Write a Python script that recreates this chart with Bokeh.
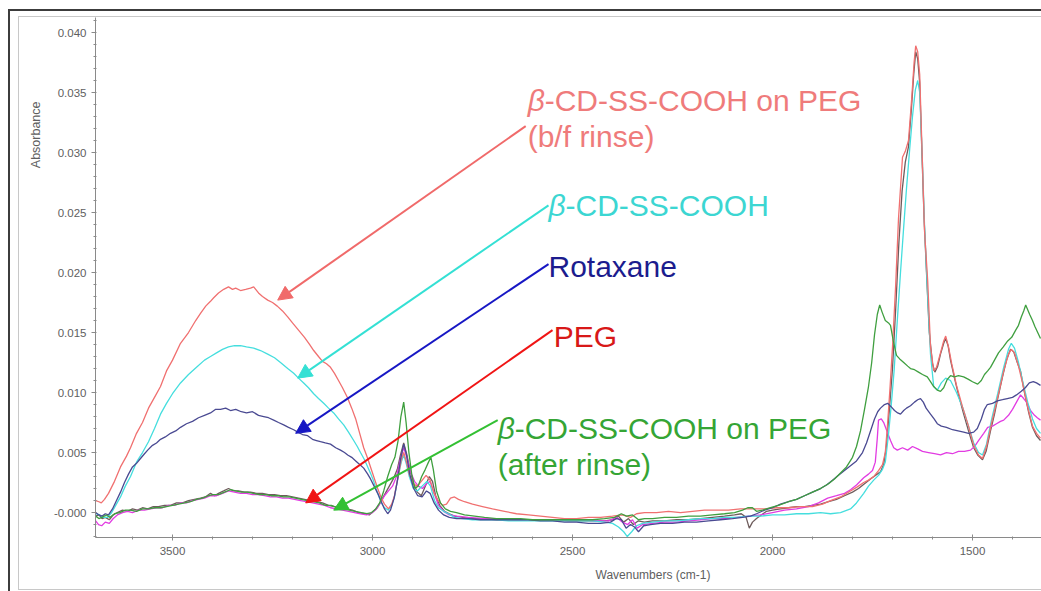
from bokeh.plotting import figure
from bokeh.models import Range1d, FixedTicker, Arrow, NormalHead, Label, Title
from bokeh.embed import file_html
from bokeh.resources import INLINE

# ---------------------------------------------------------------------------
# FTIR spectra: (wavenumber cm-1, absorbance)
# ---------------------------------------------------------------------------
BF_RINSE = [
    (3692, 0.0010), (3684, 0.0009), (3678, 0.0008), (3670, 0.0011), (3660, 0.0016), (3645, 0.0026),
    (3630, 0.0038), (3615, 0.0047), (3605, 0.0054), (3590, 0.0066), (3575, 0.0075), (3560, 0.0087),
    (3545, 0.0096), (3530, 0.0105), (3515, 0.0118), (3500, 0.0127), (3480, 0.0141), (3460, 0.0150),
    (3442, 0.0160), (3430, 0.0166), (3417, 0.0172), (3405, 0.0176), (3397, 0.0179), (3385, 0.0183),
    (3372, 0.0186), (3360, 0.0188), (3350, 0.0186), (3342, 0.0187), (3330, 0.0185), (3317, 0.0186),
    (3305, 0.0187), (3297, 0.0188), (3285, 0.0183), (3275, 0.0180), (3262, 0.0177), (3250, 0.0175),
    (3238, 0.0172), (3225, 0.0168), (3212, 0.0163), (3200, 0.0158), (3185, 0.0152), (3170, 0.0146),
    (3157, 0.0140), (3147, 0.0135), (3135, 0.0130), (3125, 0.0126), (3115, 0.0124), (3105, 0.0121),
    (3095, 0.0116), (3085, 0.0110), (3075, 0.0104), (3063, 0.0096), (3052, 0.0087), (3042, 0.0078),
    (3032, 0.0066), (3022, 0.0054), (3012, 0.0045), (3005, 0.0038), (2995, 0.0028), (2987, 0.0020),
    (2978, 0.0012), (2970, 0.0007), (2960, 0.0003), (2952, 0.0007), (2945, 0.0014), (2936, 0.0030),
    (2928, 0.0044), (2922, 0.0050), (2915, 0.0042), (2908, 0.0032), (2898, 0.0024), (2888, 0.0022),
    (2878, 0.0026), (2866, 0.0031), (2856, 0.0027), (2846, 0.0016), (2836, 0.0010), (2825, 0.0006),
    (2815, 0.0007), (2805, 0.0012), (2795, 0.0013), (2785, 0.0011), (2770, 0.0009), (2750, 0.0007),
    (2725, 0.0005), (2700, 0.0003), (2670, 0.0001), (2640, -0.0001), (2610, -0.0002), (2580, -0.0003),
    (2550, -0.0004), (2520, -0.0005), (2490, -0.0005), (2460, -0.0004), (2430, -0.0004), (2400, -0.0003),
    (2375, -0.0002), (2355, -0.0004), (2340, -0.0001), (2320, 0.0000), (2290, 0.0000), (2260, 0.0001),
    (2230, 0.0000), (2200, 0.0001), (2170, 0.0002), (2140, 0.0002), (2110, 0.0002), (2080, 0.0003),
    (2050, 0.0003), (2020, 0.0003), (1990, 0.0004), (1960, 0.0004), (1930, 0.0005), (1900, 0.0005),
    (1875, 0.0007), (1855, 0.0010), (1830, 0.0013), (1805, 0.0018), (1790, 0.0021), (1772, 0.0025),
    (1760, 0.0027), (1747, 0.0030), (1735, 0.0035), (1725, 0.0040), (1718, 0.0050), (1712, 0.0075),
    (1706, 0.0105), (1700, 0.0138), (1692, 0.0190), (1685, 0.0245), (1675, 0.0296), (1668, 0.0301),
    (1660, 0.0310), (1652, 0.0345), (1646, 0.0375), (1642, 0.0389), (1637, 0.0384), (1632, 0.0365),
    (1626, 0.0300), (1620, 0.0235), (1612, 0.0193), (1605, 0.0138), (1597, 0.0118), (1590, 0.0121),
    (1580, 0.0133), (1572, 0.0143), (1567, 0.0147), (1560, 0.0138), (1552, 0.0124), (1540, 0.0106),
    (1525, 0.0088), (1510, 0.0072), (1497, 0.0056), (1485, 0.0048), (1475, 0.0045), (1465, 0.0055),
    (1452, 0.0075), (1437, 0.0096), (1422, 0.0118), (1410, 0.0132), (1403, 0.0136), (1395, 0.0133),
    (1385, 0.0122), (1375, 0.0108), (1362, 0.0088), (1350, 0.0072), (1340, 0.0066), (1330, 0.0062),
]

CD_SS_COOH = [
    (3692, -0.0001), (3682, -0.0002), (3672, -0.0004), (3662, -0.0004), (3652, 0.0000), (3642, 0.0006),
    (3630, 0.0013), (3618, 0.0022), (3605, 0.0030), (3590, 0.0042), (3575, 0.0050), (3560, 0.0059),
    (3545, 0.0070), (3530, 0.0082), (3515, 0.0091), (3500, 0.0099), (3480, 0.0108), (3460, 0.0115),
    (3440, 0.0121), (3420, 0.0127), (3405, 0.0130), (3390, 0.0133), (3375, 0.0136), (3360, 0.0138),
    (3345, 0.0139), (3330, 0.0139), (3315, 0.0138), (3297, 0.0137), (3280, 0.0135), (3262, 0.0132),
    (3245, 0.0129), (3230, 0.0125), (3212, 0.0120), (3197, 0.0116), (3185, 0.0112), (3172, 0.0108),
    (3160, 0.0104), (3147, 0.0099), (3135, 0.0095), (3122, 0.0091), (3110, 0.0087), (3097, 0.0083),
    (3085, 0.0078), (3072, 0.0073), (3060, 0.0067), (3047, 0.0060), (3038, 0.0055), (3030, 0.0050),
    (3020, 0.0044), (3012, 0.0038), (3004, 0.0032), (2997, 0.0026), (2987, 0.0016), (2978, 0.0008),
    (2970, 0.0004), (2960, 0.0002), (2952, 0.0006), (2945, 0.0013), (2936, 0.0030), (2928, 0.0042),
    (2922, 0.0048), (2915, 0.0040), (2908, 0.0030), (2898, 0.0020), (2888, 0.0018), (2876, 0.0022),
    (2864, 0.0026), (2855, 0.0022), (2845, 0.0010), (2835, 0.0004), (2822, 0.0001), (2810, -0.0001),
    (2795, -0.0004), (2775, -0.0005), (2750, -0.0006), (2720, -0.0006), (2690, -0.0006), (2660, -0.0007),
    (2630, -0.0007), (2600, -0.0007), (2570, -0.0007), (2540, -0.0007), (2510, -0.0007), (2480, -0.0007),
    (2450, -0.0007), (2420, -0.0008), (2400, -0.0009), (2385, -0.0012), (2372, -0.0016), (2363, -0.0020),
    (2352, -0.0016), (2340, -0.0011), (2325, -0.0009), (2300, -0.0008), (2270, -0.0007), (2240, -0.0007),
    (2210, -0.0006), (2180, -0.0005), (2150, -0.0005), (2120, -0.0004), (2090, -0.0004), (2060, -0.0003),
    (2030, -0.0003), (2000, -0.0002), (1970, -0.0002), (1940, -0.0001), (1910, -0.0001), (1880, 0.0000),
    (1855, -0.0001), (1830, 0.0000), (1805, 0.0003), (1790, 0.0008), (1772, 0.0016), (1760, 0.0022),
    (1747, 0.0027), (1735, 0.0031), (1725, 0.0036), (1718, 0.0042), (1710, 0.0065), (1703, 0.0090),
    (1696, 0.0118), (1688, 0.0160), (1680, 0.0200), (1672, 0.0238), (1665, 0.0270), (1657, 0.0303),
    (1650, 0.0330), (1643, 0.0352), (1637, 0.0360), (1632, 0.0350), (1626, 0.0300), (1620, 0.0240),
    (1612, 0.0180), (1605, 0.0132), (1597, 0.0105), (1588, 0.0102), (1578, 0.0108), (1567, 0.0112),
    (1555, 0.0110), (1540, 0.0100), (1525, 0.0088), (1510, 0.0072), (1497, 0.0058), (1485, 0.0050),
    (1475, 0.0048), (1465, 0.0057), (1452, 0.0078), (1437, 0.0099), (1422, 0.0121), (1410, 0.0136),
    (1403, 0.0141), (1395, 0.0137), (1385, 0.0125), (1375, 0.0110), (1362, 0.0092), (1350, 0.0078),
    (1340, 0.0070), (1330, 0.0066),
]

ROTAXANE = [
    (3692, 0.0000), (3684, -0.0002), (3676, -0.0003), (3668, -0.0001), (3660, -0.0002), (3650, 0.0003),
    (3640, 0.0010), (3630, 0.0017), (3620, 0.0025), (3610, 0.0032), (3600, 0.0038), (3590, 0.0041),
    (3580, 0.0045), (3570, 0.0049), (3562, 0.0052), (3550, 0.0056), (3540, 0.0058), (3530, 0.0061),
    (3518, 0.0063), (3505, 0.0066), (3492, 0.0068), (3480, 0.0071), (3465, 0.0074), (3450, 0.0076),
    (3435, 0.0079), (3420, 0.0081), (3405, 0.0083), (3392, 0.0086), (3380, 0.0086), (3367, 0.0087),
    (3355, 0.0085), (3342, 0.0086), (3328, 0.0084), (3315, 0.0083), (3300, 0.0084), (3285, 0.0081),
    (3272, 0.0080), (3260, 0.0079), (3247, 0.0077), (3235, 0.0075), (3222, 0.0073), (3210, 0.0071),
    (3197, 0.0069), (3187, 0.0067), (3175, 0.0065), (3162, 0.0064), (3150, 0.0061), (3140, 0.0060),
    (3130, 0.0059), (3118, 0.0058), (3105, 0.0057), (3092, 0.0054), (3080, 0.0052), (3070, 0.0050),
    (3062, 0.0048), (3052, 0.0046), (3042, 0.0043), (3032, 0.0040), (3022, 0.0037), (3012, 0.0032),
    (3005, 0.0028), (2996, 0.0022), (2987, 0.0016), (2978, 0.0009), (2970, 0.0003), (2962, -0.0001),
    (2955, 0.0002), (2946, 0.0012), (2938, 0.0026), (2930, 0.0044), (2922, 0.0057), (2915, 0.0048),
    (2907, 0.0032), (2897, 0.0020), (2887, 0.0014), (2876, 0.0013), (2865, 0.0018), (2856, 0.0016),
    (2846, 0.0008), (2835, 0.0002), (2822, -0.0002), (2808, -0.0004), (2790, -0.0005), (2760, -0.0005),
    (2730, -0.0006), (2700, -0.0006), (2670, -0.0006), (2640, -0.0006), (2610, -0.0006), (2580, -0.0007),
    (2550, -0.0007), (2520, -0.0008), (2490, -0.0008), (2460, -0.0009), (2430, -0.0009), (2405, -0.0008),
    (2390, -0.0005), (2378, -0.0006), (2366, -0.0013), (2355, -0.0010), (2345, -0.0012), (2335, -0.0016),
    (2322, -0.0011), (2305, -0.0010), (2280, -0.0009), (2250, -0.0009), (2220, -0.0008), (2190, -0.0008),
    (2160, -0.0007), (2130, -0.0006), (2100, -0.0005), (2075, -0.0004), (2055, -0.0003), (2040, -0.0001),
    (2020, 0.0002), (2000, 0.0004), (1980, 0.0007), (1960, 0.0009), (1940, 0.0011), (1920, 0.0014),
    (1900, 0.0017), (1880, 0.0020), (1865, 0.0023), (1850, 0.0027), (1835, 0.0031), (1820, 0.0035),
    (1805, 0.0039), (1790, 0.0043), (1775, 0.0050), (1765, 0.0058), (1755, 0.0068), (1745, 0.0078),
    (1737, 0.0084), (1730, 0.0087), (1720, 0.0090), (1712, 0.0091), (1703, 0.0088), (1695, 0.0085),
    (1687, 0.0083), (1680, 0.0082), (1672, 0.0085), (1665, 0.0087), (1655, 0.0089), (1645, 0.0092),
    (1637, 0.0094), (1630, 0.0095), (1623, 0.0092), (1616, 0.0087), (1605, 0.0082), (1596, 0.0078),
    (1588, 0.0074), (1578, 0.0072), (1565, 0.0071), (1550, 0.0069), (1536, 0.0068), (1522, 0.0067),
    (1510, 0.0066), (1497, 0.0067), (1488, 0.0070), (1478, 0.0078), (1470, 0.0086), (1463, 0.0090),
    (1450, 0.0091), (1438, 0.0093), (1425, 0.0094), (1413, 0.0095), (1400, 0.0096), (1390, 0.0098),
    (1378, 0.0101), (1368, 0.0104), (1358, 0.0108), (1348, 0.0109), (1340, 0.0108), (1330, 0.0106),
]

PEG_FILM = [
    (3692, -0.0007), (3685, -0.0010), (3677, -0.0011), (3668, -0.0008), (3658, -0.0009), (3648, -0.0005),
    (3638, -0.0002), (3625, 0.0000), (3612, 0.0001), (3600, 0.0000), (3585, 0.0002), (3570, 0.0002),
    (3555, 0.0003), (3540, 0.0004), (3525, 0.0004), (3510, 0.0006), (3495, 0.0006), (3480, 0.0008),
    (3465, 0.0008), (3450, 0.0010), (3435, 0.0011), (3420, 0.0012), (3405, 0.0014), (3390, 0.0014),
    (3375, 0.0016), (3360, 0.0018), (3345, 0.0017), (3330, 0.0016), (3315, 0.0016), (3300, 0.0015),
    (3285, 0.0015), (3270, 0.0014), (3255, 0.0013), (3240, 0.0013), (3225, 0.0012), (3210, 0.0012),
    (3195, 0.0011), (3180, 0.0010), (3165, 0.0009), (3150, 0.0008), (3135, 0.0007), (3120, 0.0006),
    (3105, 0.0004), (3090, 0.0003), (3075, 0.0002), (3060, 0.0001), (3045, 0.0000), (3030, -0.0001),
    (3015, -0.0002), (3000, 0.0000), (2990, 0.0003), (2980, 0.0008), (2970, 0.0014), (2960, 0.0018),
    (2950, 0.0022), (2940, 0.0030), (2930, 0.0045), (2922, 0.0054), (2914, 0.0046), (2905, 0.0034),
    (2895, 0.0026), (2885, 0.0022), (2875, 0.0020), (2865, 0.0024), (2856, 0.0026), (2846, 0.0016),
    (2835, 0.0006), (2822, 0.0001), (2808, -0.0002), (2790, -0.0003), (2760, -0.0004), (2720, -0.0005),
    (2680, -0.0005), (2640, -0.0006), (2600, -0.0006), (2560, -0.0006), (2520, -0.0006), (2480, -0.0006),
    (2440, -0.0007), (2410, -0.0007), (2390, -0.0004), (2375, -0.0008), (2362, -0.0010), (2350, -0.0006),
    (2338, -0.0013), (2325, -0.0010), (2300, -0.0009), (2270, -0.0008), (2240, -0.0008), (2210, -0.0007),
    (2180, -0.0006), (2150, -0.0005), (2120, -0.0005), (2090, -0.0004), (2060, -0.0003), (2030, -0.0002),
    (2000, 0.0000), (1970, 0.0002), (1940, 0.0003), (1910, 0.0005), (1885, 0.0008), (1862, 0.0012),
    (1840, 0.0014), (1820, 0.0016), (1805, 0.0019), (1790, 0.0023), (1772, 0.0029), (1760, 0.0032),
    (1750, 0.0035), (1743, 0.0042), (1738, 0.0062), (1735, 0.0077), (1728, 0.0078), (1722, 0.0075),
    (1714, 0.0068), (1705, 0.0060), (1697, 0.0054), (1688, 0.0052), (1675, 0.0054), (1662, 0.0052),
    (1650, 0.0055), (1637, 0.0053), (1625, 0.0051), (1610, 0.0050), (1595, 0.0049), (1580, 0.0048),
    (1565, 0.0050), (1550, 0.0049), (1535, 0.0051), (1520, 0.0051), (1505, 0.0052), (1495, 0.0055),
    (1485, 0.0060), (1472, 0.0066), (1462, 0.0071), (1450, 0.0072), (1440, 0.0074), (1430, 0.0076),
    (1422, 0.0077), (1410, 0.0081), (1400, 0.0086), (1390, 0.0092), (1380, 0.0098), (1372, 0.0095),
    (1365, 0.0092), (1355, 0.0085), (1345, 0.0081), (1338, 0.0079), (1330, 0.0077),
]

AFTER_RINSE = [
    (3692, -0.0003), (3684, -0.0005), (3676, -0.0004), (3666, -0.0002), (3656, -0.0004), (3645, -0.0001),
    (3632, 0.0000), (3618, 0.0002), (3605, 0.0002), (3590, 0.0001), (3575, 0.0003), (3560, 0.0003),
    (3545, 0.0004), (3530, 0.0004), (3515, 0.0005), (3500, 0.0006), (3485, 0.0007), (3470, 0.0008),
    (3455, 0.0009), (3440, 0.0011), (3425, 0.0012), (3410, 0.0014), (3398, 0.0015), (3385, 0.0015),
    (3370, 0.0017), (3355, 0.0019), (3342, 0.0018), (3328, 0.0017), (3312, 0.0017), (3298, 0.0016),
    (3283, 0.0015), (3268, 0.0015), (3253, 0.0014), (3238, 0.0014), (3223, 0.0013), (3208, 0.0013),
    (3193, 0.0012), (3178, 0.0011), (3163, 0.0010), (3148, 0.0009), (3133, 0.0008), (3118, 0.0006),
    (3103, 0.0006), (3088, 0.0004), (3073, 0.0003), (3058, 0.0002), (3043, 0.0001), (3028, 0.0000),
    (3014, -0.0001), (3002, 0.0000), (2992, 0.0003), (2982, 0.0008), (2972, 0.0018), (2962, 0.0030),
    (2952, 0.0040), (2944, 0.0046), (2936, 0.0060), (2929, 0.0080), (2922, 0.0092), (2916, 0.0075),
    (2909, 0.0050), (2902, 0.0032), (2894, 0.0020), (2886, 0.0022), (2877, 0.0030), (2868, 0.0036),
    (2860, 0.0042), (2854, 0.0046), (2848, 0.0036), (2840, 0.0018), (2830, 0.0008), (2818, 0.0003),
    (2805, 0.0001), (2790, 0.0000), (2770, -0.0002), (2745, -0.0003), (2720, -0.0004), (2690, -0.0005),
    (2660, -0.0005), (2630, -0.0005), (2600, -0.0006), (2570, -0.0006), (2540, -0.0006), (2510, -0.0006),
    (2480, -0.0006), (2450, -0.0006), (2420, -0.0005), (2395, -0.0004), (2378, -0.0001), (2365, -0.0003),
    (2350, -0.0002), (2335, -0.0006), (2320, -0.0005), (2300, -0.0005), (2270, -0.0004), (2240, -0.0004),
    (2210, -0.0003), (2180, -0.0003), (2150, -0.0002), (2120, -0.0001), (2095, 0.0000), (2075, 0.0002),
    (2062, 0.0004), (2050, 0.0004), (2040, 0.0001), (2025, 0.0002), (2005, 0.0004), (1985, 0.0006),
    (1960, 0.0009), (1940, 0.0011), (1920, 0.0014), (1900, 0.0017), (1880, 0.0020), (1860, 0.0024),
    (1845, 0.0028), (1830, 0.0033), (1815, 0.0038), (1800, 0.0046), (1790, 0.0055), (1780, 0.0068),
    (1770, 0.0086), (1760, 0.0105), (1752, 0.0125), (1745, 0.0148), (1738, 0.0165), (1732, 0.0173),
    (1726, 0.0167), (1718, 0.0160), (1710, 0.0158), (1705, 0.0156), (1698, 0.0143), (1690, 0.0131),
    (1682, 0.0128), (1672, 0.0125), (1662, 0.0122), (1655, 0.0120), (1645, 0.0119), (1635, 0.0117),
    (1625, 0.0115), (1613, 0.0113), (1605, 0.0109), (1597, 0.0105), (1588, 0.0102), (1580, 0.0101),
    (1572, 0.0104), (1563, 0.0111), (1555, 0.0114), (1545, 0.0113), (1535, 0.0114), (1522, 0.0113),
    (1510, 0.0111), (1500, 0.0109), (1487, 0.0107), (1478, 0.0110), (1470, 0.0115), (1462, 0.0118),
    (1455, 0.0121), (1445, 0.0127), (1435, 0.0133), (1423, 0.0138), (1412, 0.0143), (1402, 0.0146),
    (1392, 0.0152), (1385, 0.0156), (1378, 0.0163), (1372, 0.0168), (1367, 0.0173), (1362, 0.0169),
    (1357, 0.0165), (1350, 0.0160), (1344, 0.0155), (1337, 0.0150), (1330, 0.0145),
]

PEG = [
    (3692, -0.0003), (3684, -0.0002), (3676, -0.0005), (3668, -0.0004), (3658, -0.0006), (3648, -0.0002),
    (3638, 0.0000), (3625, 0.0002), (3612, 0.0001), (3600, 0.0003), (3588, 0.0002), (3575, 0.0004),
    (3562, 0.0003), (3548, 0.0005), (3535, 0.0005), (3520, 0.0006), (3505, 0.0006), (3490, 0.0008),
    (3475, 0.0008), (3460, 0.0010), (3445, 0.0011), (3430, 0.0012), (3418, 0.0013), (3405, 0.0016),
    (3395, 0.0014), (3385, 0.0016), (3372, 0.0018), (3360, 0.0020), (3348, 0.0018), (3335, 0.0018),
    (3320, 0.0017), (3305, 0.0017), (3290, 0.0016), (3275, 0.0016), (3260, 0.0015), (3245, 0.0015),
    (3230, 0.0014), (3215, 0.0014), (3200, 0.0013), (3185, 0.0012), (3170, 0.0011), (3155, 0.0010),
    (3140, 0.0009), (3125, 0.0008), (3110, 0.0006), (3095, 0.0005), (3080, 0.0004), (3065, 0.0003),
    (3050, 0.0002), (3035, 0.0000), (3020, -0.0001), (3008, -0.0002), (2998, 0.0001), (2988, 0.0004),
    (2978, 0.0010), (2968, 0.0016), (2958, 0.0022), (2948, 0.0028), (2938, 0.0036), (2930, 0.0048),
    (2922, 0.0058), (2914, 0.0048), (2906, 0.0035), (2897, 0.0024), (2888, 0.0017), (2878, 0.0014),
    (2868, 0.0022), (2858, 0.0030), (2850, 0.0026), (2842, 0.0014), (2832, 0.0006), (2820, 0.0001),
    (2808, -0.0001), (2795, -0.0003), (2775, -0.0004), (2750, -0.0005), (2720, -0.0005), (2690, -0.0006),
    (2660, -0.0006), (2630, -0.0006), (2600, -0.0006), (2570, -0.0006), (2540, -0.0006), (2510, -0.0007),
    (2480, -0.0007), (2450, -0.0007), (2420, -0.0007), (2398, -0.0006), (2385, -0.0003), (2372, -0.0008),
    (2360, -0.0005), (2348, -0.0010), (2336, -0.0007), (2320, -0.0008), (2300, -0.0007), (2270, -0.0007),
    (2240, -0.0006), (2210, -0.0006), (2180, -0.0005), (2150, -0.0004), (2120, -0.0003), (2095, -0.0002),
    (2078, -0.0001), (2066, -0.0004), (2058, -0.0013), (2050, -0.0008), (2040, -0.0005), (2028, -0.0002),
    (2015, 0.0001), (2000, 0.0002), (1980, 0.0003), (1960, 0.0004), (1940, 0.0005), (1920, 0.0005),
    (1900, 0.0006), (1880, 0.0007), (1860, 0.0009), (1840, 0.0011), (1820, 0.0014), (1800, 0.0017),
    (1785, 0.0020), (1770, 0.0024), (1755, 0.0028), (1742, 0.0031), (1730, 0.0034), (1722, 0.0040),
    (1715, 0.0056), (1708, 0.0085), (1700, 0.0120), (1692, 0.0170), (1684, 0.0225), (1676, 0.0268),
    (1668, 0.0292), (1660, 0.0305), (1653, 0.0335), (1647, 0.0365), (1642, 0.0384), (1637, 0.0378),
    (1632, 0.0358), (1627, 0.0305), (1621, 0.0245), (1615, 0.0200), (1608, 0.0150), (1600, 0.0124),
    (1594, 0.0117), (1587, 0.0122), (1580, 0.0132), (1572, 0.0141), (1567, 0.0145), (1561, 0.0139),
    (1555, 0.0127), (1545, 0.0112), (1535, 0.0098), (1522, 0.0082), (1510, 0.0068), (1497, 0.0054),
    (1487, 0.0048), (1475, 0.0044), (1466, 0.0051), (1455, 0.0068), (1445, 0.0082), (1437, 0.0095),
    (1425, 0.0113), (1415, 0.0127), (1405, 0.0136), (1397, 0.0134), (1388, 0.0125), (1380, 0.0118),
    (1370, 0.0100), (1360, 0.0084), (1350, 0.0071), (1340, 0.0064), (1330, 0.0060),
]

# Axis ticks and labels
X_TICKS = [3500, 3000, 2500, 2000, 1500]
X_MINOR_TICKS = [3600, 3400, 3300, 3200, 3100, 2900, 2800, 2700, 2600, 2400, 2300, 2200, 2100,
                 1900, 1800, 1700, 1600, 1400]
Y_TICKS = [0.000, 0.005, 0.010, 0.015, 0.020, 0.025, 0.030, 0.035, 0.040]
Y_TICK_LABELS = ["-0.000", "0.005", "0.010", "0.015", "0.020", "0.025", "0.030", "0.035", "0.040"]
Y_MINOR_TICKS = [i / 1000 for i in range(-2, 42)]

X_RANGE = (3692.5, 1327.5)
Y_RANGE = (-0.00208, 0.04125)

# window frame drawn behind the (transparent) canvas border
FRAME_CSS = {
    "background-color": "white",
    "background-image": ", ".join(["linear-gradient(#3c3c3c, #3c3c3c)"] * 2
                                  + ["linear-gradient(#c8c8c8, #c8c8c8)"] * 3),
    "background-size": "2px 600px, 1100px 2px, 1px 574px, 1100px 1px, 1100px 1px",
    "background-position": "8px 9px, 8px 9px, 18px 16px, 18px 16px, 18px 589px",
    "background-repeat": "no-repeat",
}

# ---------------------------------------------------------------------------
p = figure(width=1041, height=591, output_backend="svg", toolbar_location=None,
           x_range=Range1d(*X_RANGE), y_range=Range1d(*Y_RANGE),
           min_border_left=95, min_border_right=0, min_border_top=17, min_border_bottom=54,
           styles=FRAME_CSS)
p.background_fill_color = "white"
p.border_fill_color = None
p.outline_line_color = None
p.grid.visible = False

AXIS_GREY = "#8a8a8a"
LABEL_GREY = "#5e5e5e"
for ax in (p.xaxis[0], p.yaxis[0]):
    ax.axis_line_color = AXIS_GREY
    ax.major_tick_line_color = AXIS_GREY
    ax.minor_tick_line_color = AXIS_GREY
    ax.major_label_text_color = LABEL_GREY
    ax.major_label_text_font = "Liberation Sans"
    ax.major_label_text_font_size = "11.5px"

p.xaxis.ticker = FixedTicker(ticks=X_TICKS, minor_ticks=X_MINOR_TICKS)
p.xaxis.major_tick_in = 3
p.xaxis.major_tick_out = 3
p.xaxis.minor_tick_in = 1
p.xaxis.minor_tick_out = 2
p.xaxis.major_label_standoff = 6

p.yaxis.ticker = FixedTicker(ticks=Y_TICKS, minor_ticks=Y_MINOR_TICKS)
p.yaxis.major_label_overrides = dict(zip(Y_TICKS, Y_TICK_LABELS))
p.yaxis.major_tick_in = 0
p.yaxis.major_tick_out = 4
p.yaxis.minor_tick_in = 1
p.yaxis.minor_tick_out = 2
p.yaxis.major_label_standoff = 5

# axis titles, placed in the side panels
p.add_layout(Title(text="Absorbance", align="right", offset=84, standoff=16,
                   text_font="Liberation Sans", text_font_size="12.5px",
                   text_font_style="normal", text_color=LABEL_GREY), "left")
p.add_layout(Title(text="Wavenumbers (cm-1)", align="left", offset=500, standoff=17,
                   text_font="Liberation Sans", text_font_size="12px",
                   text_font_style="normal", text_color=LABEL_GREY), "below")

# spectra
def draw(series, color, width=1.3):
    xs = [w for w, _ in series]
    ys = [a for _, a in series]
    p.line(xs, ys, line_color=color, line_width=width)

draw(PEG, "#6e5c5c")
draw(PEG_FILM, "#e23ce2")
draw(CD_SS_COOH, "#45dede")
draw(BF_RINSE, "#f07070")
draw(ROTAXANE, "#4a4a92")
draw(AFTER_RINSE, "#3f9f3f")

# callouts
FS = "30px"
def callout(x, y, lines, color, beta=True):
    for i, line in enumerate(lines):
        yy = y - i * 0.0030
        if beta and i == 0:
            p.add_layout(Label(x=x, y=yy, text="\u03b2", text_font="Liberation Sans",
                               text_font_style="italic", text_font_size=FS, text_color=color,
                               text_baseline="middle"))
            p.add_layout(Label(x=x, y=yy, x_offset=17, text=line, text_font="Liberation Sans",
                               text_font_size=FS, text_color=color, text_baseline="middle"))
        else:
            p.add_layout(Label(x=x, y=yy, text=line, text_font="Liberation Sans",
                               text_font_size=FS, text_color=color, text_baseline="middle"))

def arrow(x0, y0, x1, y1, color):
    p.add_layout(Arrow(end=NormalHead(size=14, fill_color=color, line_color=color),
                       x_start=x0, y_start=y0, x_end=x1, y_end=y1,
                       line_color=color, line_width=2))

callout(2612, 0.0343, ["-CD-SS-COOH on PEG", "(b/f rinse)"], "#ef7b7b")
arrow(2617, 0.0322, 3237, 0.0177, "#f06a6a")

callout(2560, 0.0256, ["-CD-SS-COOH"], "#3cd6d2")
arrow(2560, 0.0256, 3187, 0.0112, "#34e0d4")

callout(2560, 0.0205, ["Rotaxane"], "#1c1c8e", beta=False)
arrow(2560, 0.0207, 3192, 0.0066, "#1717c4")

callout(2547, 0.0147, ["PEG"], "#d81818", beta=False)
arrow(2550, 0.0152, 3167, 0.0008, "#f01414")

callout(2687, 0.0070, ["-CD-SS-COOH on PEG", "(after rinse)"], "#35a535")
arrow(2687, 0.0077, 3097, 0.0002, "#33c033")

open("out.html", "w").write(file_html(p, INLINE))
